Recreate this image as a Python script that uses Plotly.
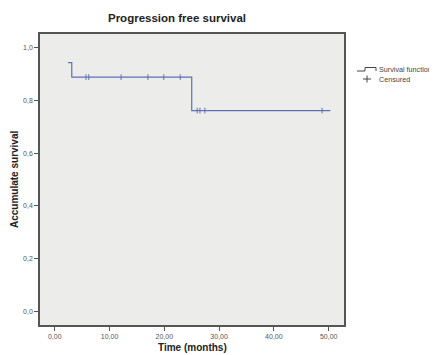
import plotly.graph_objects as go

# Kaplan-Meier step data (months, survival)
step_times = [2.4, 3.1, 25.0, 50.3]
step_surv = [0.944, 0.889, 0.762, 0.762]

# Censored observations (months)
censored_times = [5.7, 6.2, 12.1, 17.0, 19.9, 22.9, 26.0, 26.5, 27.4, 48.8]

x_ticks = [0, 10, 20, 30, 40, 50]
x_tick_labels = ["0,00", "10,00", "20,00", "30,00", "40,00", "50,00"]
y_ticks = [0.0, 0.2, 0.4, 0.6, 0.8, 1.0]
y_tick_labels = ["0,0", "0,2", "0,4", "0,6", "0,8", "1,0"]
legend_labels = ["Survival function", "Censured"]


def surv_at(t):
    val = step_surv[0]
    for st, sv in zip(step_times, step_surv):
        if t >= st:
            val = sv
    return val


censored_surv = [surv_at(t) for t in censored_times]

LINE = "#5f70b6"
OFF = 8  # page body margin
W, H = 437 - OFF, 355 - OFF
PL, PR, PT, PB = 40 - OFF, 344 - OFF, 34 - OFF, 325 - OFF


def px(x):
    return (x - OFF - PL) / (PR - PL)


def py(y):
    return (PB - (y - OFF)) / (PB - PT)


fig = go.Figure()
fig.add_trace(go.Scatter(
    x=step_times, y=step_surv, mode="lines", line_shape="hv",
    line=dict(color=LINE, width=1.2), name=legend_labels[0], showlegend=False,
))
fig.add_trace(go.Scatter(
    x=censored_times, y=censored_surv, mode="markers",
    marker=dict(symbol="line-ns", size=4, line=dict(color=LINE, width=1)),
    name=legend_labels[1], showlegend=False,
))

axis_common = dict(
    showgrid=False, zeroline=False, showline=True, linecolor="#555555",
    linewidth=1.5, mirror=True, ticks="outside", ticklen=4, automargin=False,
    tickcolor="#555555", tickfont=dict(family="Arial", size=7, color="#555555"),
)

LEG_FONT = dict(family="Liberation Sans Narrow, Arial Narrow, Arial", size=7.2, color="#444444")

# custom legend glyphs (page pixel positions)
legend_shapes = [
    dict(type="path", xref="paper", yref="paper",
         path=f"M {px(357)} {py(71)} L {px(365)} {py(71)} L {px(365)} {py(67.5)} L {px(376)} {py(67.5)} L {px(376)} {py(71)}",
         line=dict(color="#444444", width=1)),
    dict(type="line", xref="paper", yref="paper", x0=px(363), x1=px(371), y0=py(79), y1=py(79),
         line=dict(color="#444444", width=1)),
    dict(type="line", xref="paper", yref="paper", x0=px(367), x1=px(367), y0=py(75.5), y1=py(82.5),
         line=dict(color="#444444", width=1)),
]
annotations = [
    dict(text=legend_labels[0], xref="paper", yref="paper", x=px(377), y=py(69),
         xanchor="left", yanchor="middle", showarrow=False, font=LEG_FONT),
    dict(text=legend_labels[1], xref="paper", yref="paper", x=px(377), y=py(79.5),
         xanchor="left", yanchor="middle", showarrow=False, font=LEG_FONT),
    dict(text="<b>Time (months)</b>", xref="paper", yref="paper", x=px(192), y=py(347),
         xanchor="center", yanchor="middle", showarrow=False,
         font=dict(family="Arial", size=10, color="#222222")),
    dict(text="<b>Accumulate survival</b>", xref="paper", yref="paper", x=px(14), y=py(180),
         xanchor="center", yanchor="middle", showarrow=False, textangle=-90,
         font=dict(family="Arial", size=10, color="#222222")),
]

fig.update_layout(
    width=W, height=H,
    margin=dict(l=PL, r=W - PR, t=PT, b=H - PB),
    paper_bgcolor="white", plot_bgcolor="#ececea",
    title=dict(text="<b>Progression free survival</b>", x=(177 - OFF) / W, xanchor="center",
               y=1 - (18 - OFF) / H, yanchor="middle",
               font=dict(family="Arial", size=11.5, color="#222222")),
    xaxis=dict(range=[-2.7, 52.8], tickvals=x_ticks, ticktext=x_tick_labels, **axis_common),
    yaxis=dict(range=[-0.053, 1.053], tickvals=y_ticks, ticktext=y_tick_labels, **axis_common),
    shapes=legend_shapes,
    annotations=annotations,
    showlegend=False,
)

fig.write_html("out.html")
